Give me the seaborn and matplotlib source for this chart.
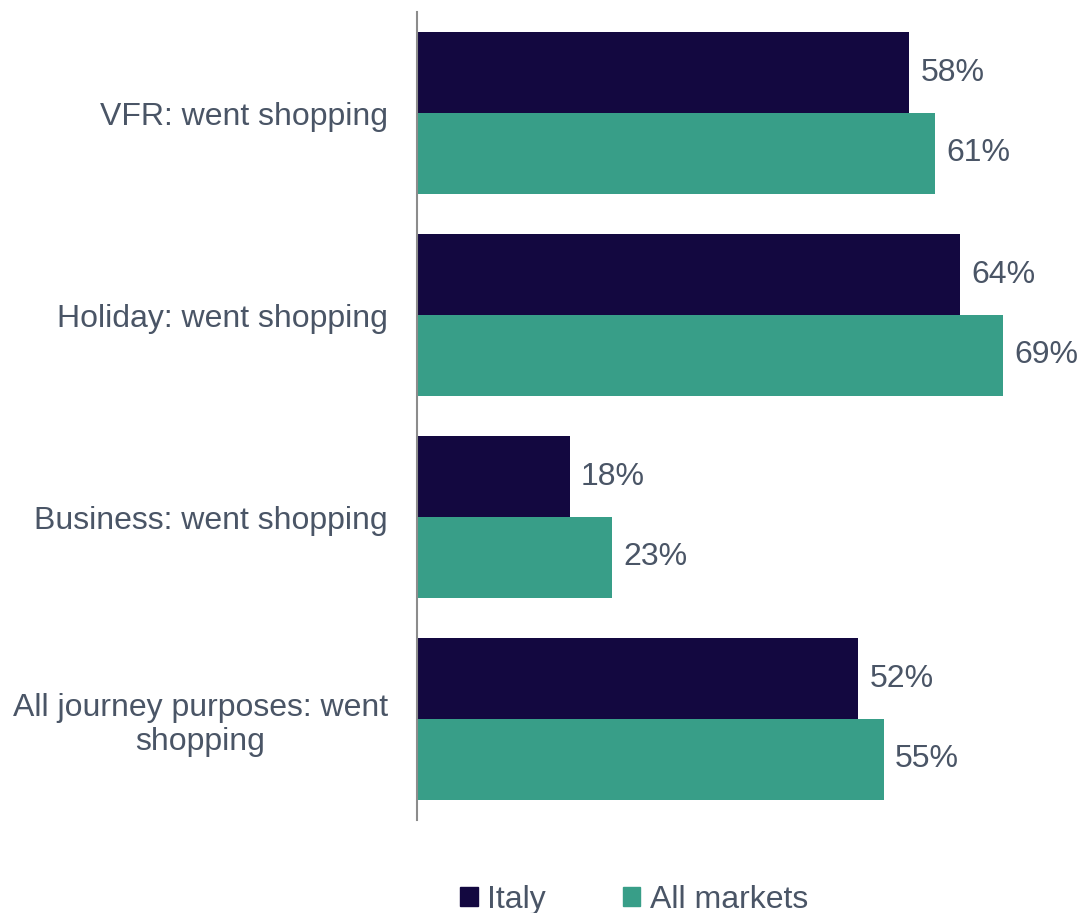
import pandas as pd
import matplotlib.pyplot as plt
import seaborn as sns

# === Data ===
categories = ["VFR: went shopping", "Holiday: went shopping",
              "Business: went shopping", "All journey purposes: went\nshopping"]
italy = [58, 64, 18, 52]
all_markets = [61, 69, 23, 55]
series = ["Italy", "All markets"]
colors = ["#130840", "#389e88"]
text_color = "#4a5566"

df = pd.DataFrame({
    "category": categories * 2,
    "value": italy + all_markets,
    "series": [series[0]] * 4 + [series[1]] * 4,
})

sns.set_style("white")
plt.rcParams["font.family"] = ["Liberation Sans", "DejaVu Sans"]

fig = plt.figure(figsize=(10.86, 9.13), dpi=100)
ax = fig.add_axes([417 / 1086, 1 - 820 / 913, (1086 - 417) / 1086, 808 / 913])

sns.barplot(data=df, y="category", x="value", hue="series", palette=colors,
            orient="h", width=0.8, saturation=1, linewidth=0, ax=ax, legend=False)

for cont in ax.containers:
    ax.bar_label(cont, labels=[f"{v:.0f}%" for v in cont.datavalues],
                 padding=8, fontsize=23, color=text_color)

ax.set_xlim(0, 78.8)
ax.set_ylim(3.5, -0.5)
ax.set_xlabel("")
ax.set_ylabel("")
ax.set_xticks([])
ax.tick_params(axis="y", length=0, pad=21, labelsize=23, labelcolor=text_color)
for lbl in ax.get_yticklabels():
    lbl.set_multialignment("center")
    lbl.set_linespacing(1.2)

for s in ["top", "right", "bottom"]:
    ax.spines[s].set_visible(False)
ax.spines["left"].set_color("#8c8c8c")
ax.spines["left"].set_linewidth(1.5)

handles = [plt.Rectangle((0, 0), 1, 1, color=c) for c in colors]
fig.legend(handles, series, loc="center", bbox_to_anchor=(634 / 1086, 1 - 900 / 913),
           ncol=2, frameon=False, fontsize=23, labelcolor=text_color,
           handlelength=0.55, handleheight=0.55, handletextpad=0.3, columnspacing=2.4)

plt.savefig("out.png", dpi=100)
plt.close()
